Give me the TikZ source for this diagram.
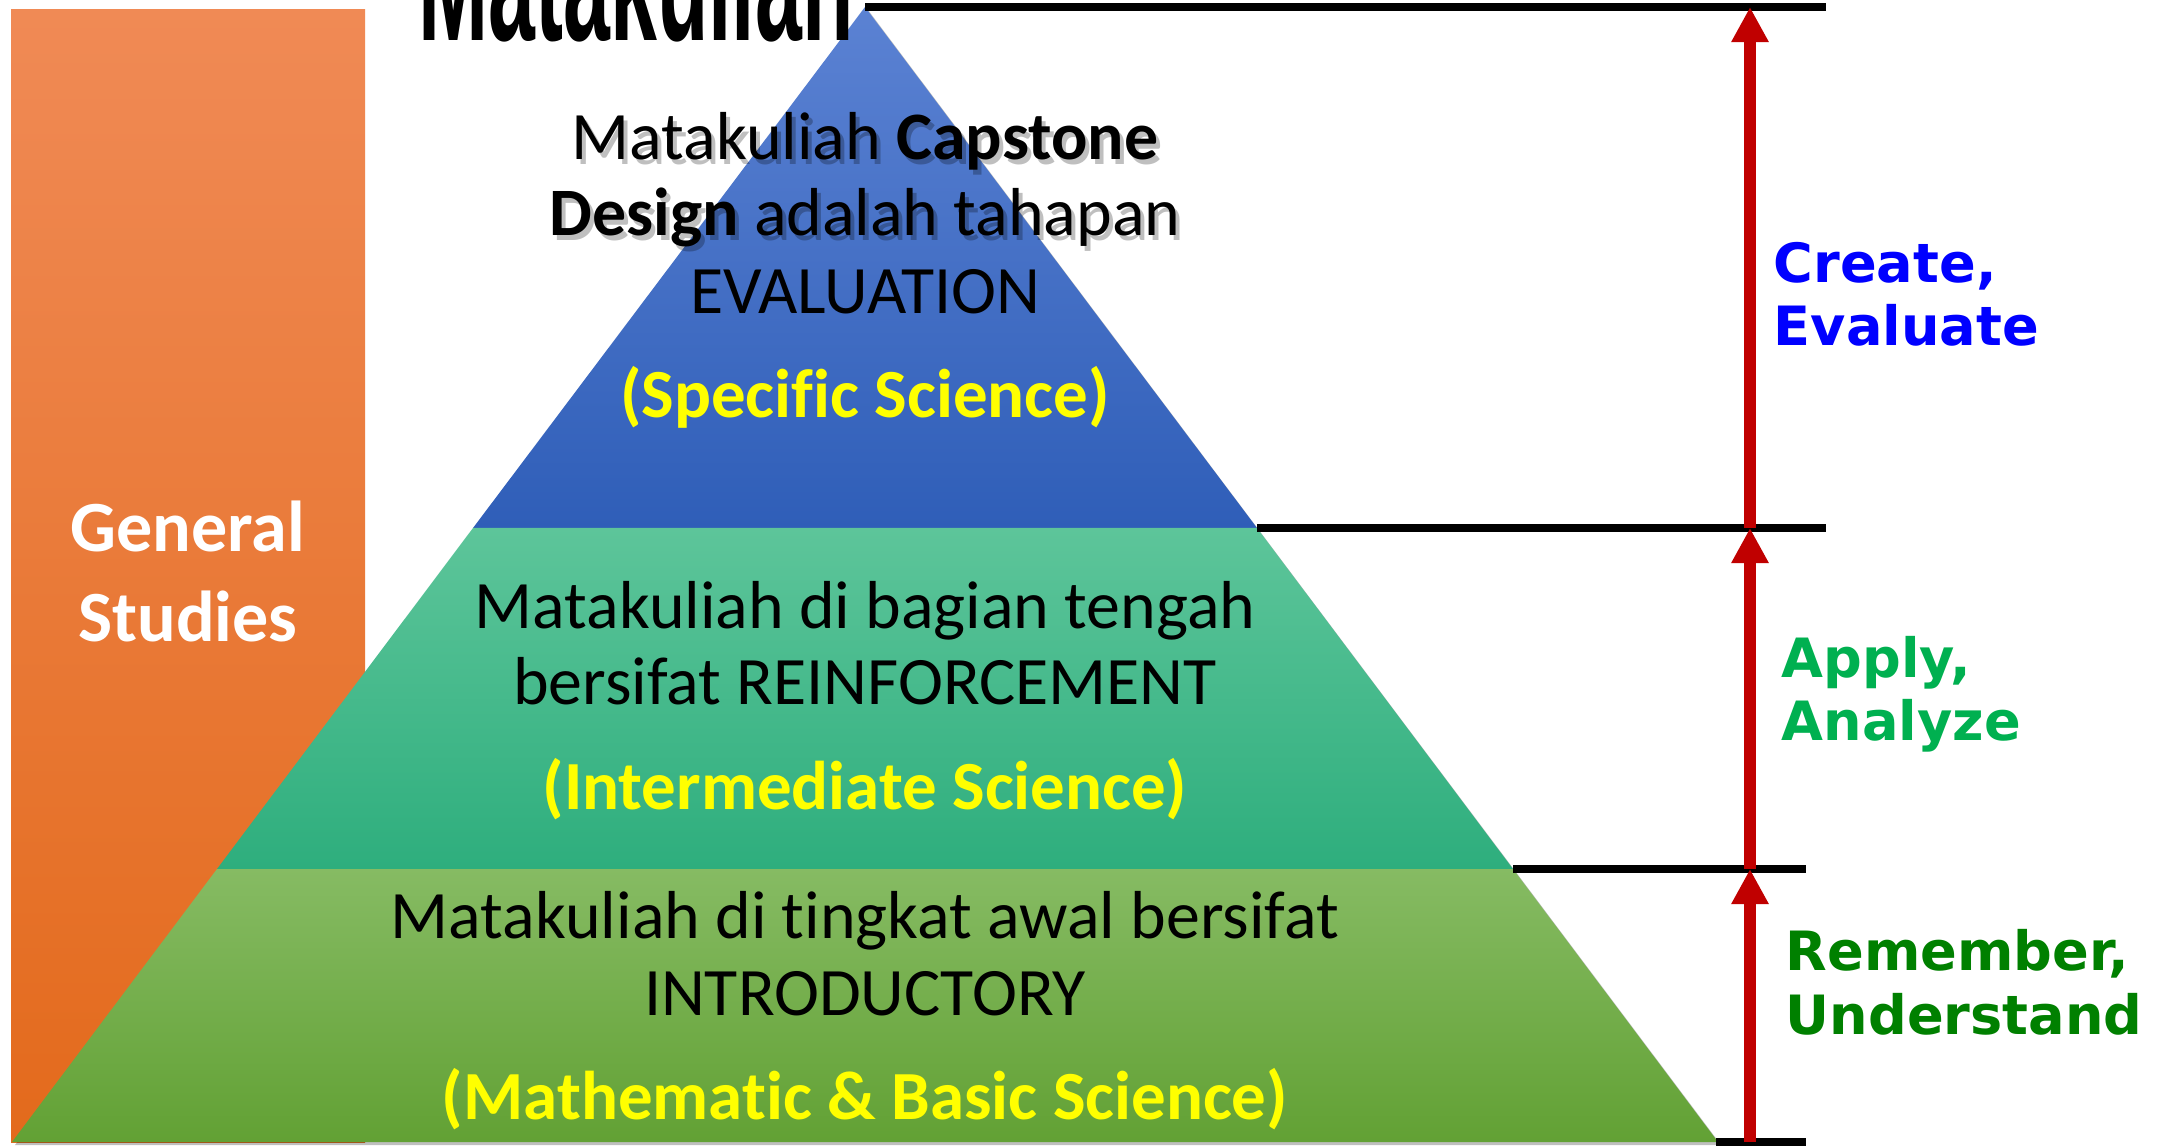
\documentclass[tikz,border=0pt]{standalone}
\usepackage{fontspec}
\setmainfont{Carlito}[Ligatures=NoCommon]
\newfontfamily\dvs{DejaVu Sans}
\newfontfamily\lsans{Liberation Sans}
\usetikzlibrary{arrows.meta}
\definecolor{bloomblue}{HTML}{0000FF}
\definecolor{applygreen}{HTML}{00B050}
\definecolor{remgreen}{HTML}{008000}
\definecolor{arrowred}{HTML}{C00000}
\definecolor{txtyellow}{HTML}{FFFF00}
\definecolor{orTop}{HTML}{F08A55}
\definecolor{orMid}{HTML}{F37B2D}
\definecolor{orBot}{HTML}{E36A1C}
\definecolor{blTop}{HTML}{5B82D3}
\definecolor{blBot}{HTML}{2F5EB8}
\definecolor{tlTop}{HTML}{5DC59A}
\definecolor{tlBot}{HTML}{2EAE7D}
\definecolor{grTop}{HTML}{86BB63}
\definecolor{grBot}{HTML}{62A134}
\begin{document}
\begin{tikzpicture}[x=0.01cm,y=-0.01cm,
  pytext/.style={anchor=base, inner sep=0pt, font=\fontsize{19.3}{22}\selectfont, text=black},
  pyshadow/.style={anchor=base, inner sep=0pt, font=\fontsize{19.3}{22}\selectfont, text=black, opacity=0.25},
  pyyellow/.style={anchor=base, inner sep=0pt, font=\fontsize{19.6}{22}\selectfont\bfseries, text=txtyellow},
  bloom/.style={anchor=base west, inner sep=0pt, font=\dvs\bfseries\fontsize{15.4}{18}\selectfont},
  gslabel/.style={anchor=base, inner sep=0pt, font=\bfseries\fontsize{20.5}{24}\selectfont, text=white},
  levelline/.style={line width=2.2pt, black},
  climb/.style={arrowred, line width=3.4pt, -{Triangle[width=10pt,length=10pt]}},
]
\useasboundingbox (0,0) rectangle (2160,1146);
\clip (0,0) rectangle (2160,1146);
\fill[white] (0,0) rectangle (2160,1146);

% pyramid geometry
\coordinate (A) at (865,7);
\coordinate (L1) at (473,528);
\coordinate (R1) at (1257,528);
\coordinate (L2) at (217,869);
\coordinate (R2) at (1513,869);
\coordinate (BL) at (12,1142);
\coordinate (BR) at (1718,1142);

% general studies bar
\shade[top color=orTop, middle color=orMid, bottom color=orBot] (11,10) rectangle (365,1142);

% pyramid shadow
\fill[black, opacity=0.25] ([shift={(3,3)}]A) -- ([shift={(3,3)}]BR) -- ([shift={(3,3)}]BL) -- cycle;

% pyramid levels
\shade[top color=blTop, bottom color=blBot] (A) -- (R1) -- (L1) -- cycle;
\shade[top color=tlTop, bottom color=tlBot] (L1) -- (R1) -- (R2) -- (L2) -- cycle;
\shade[top color=grTop, bottom color=grBot] (L2) -- (R2) -- (BR) -- (BL) -- cycle;

% cut-off heading
\node[anchor=base, inner sep=0pt, font=\lsans\bfseries\fontsize{28.5}{30}\selectfont] (head) at (636,41) {\scalebox{0.84}[1.7]{Matakuliah}};

% general studies text
\node[gslabel] (gs1) at (188,551) {General};
\node[gslabel] (gs2) at (188,641) {Studies};

% top level text
\node[pyshadow] at (869,165) {Matakuliah \textbf{Capstone}};
\node[pyshadow] at (869,241) {\textbf{Design} adalah tahapan};
\node[pytext] (t1) at (865,160) {Matakuliah \textbf{Capstone}};
\node[pytext] (t2) at (865,236) {\textbf{Design} adalah tahapan};
\node[pytext] (t3) at (865,314) {EVALUATION};
\node[pyyellow] (t4) at (865,418) {(Specific Science)};

% middle level text
\node[pytext] (m1) at (865,628) {Matakuliah di bagian tengah};
\node[pytext] (m2) at (865,704) {bersifat REINFORCEMENT};
\node[pyyellow] (m3) at (865,809) {(Intermediate Science)};

% bottom level text
\node[pytext] (b1) at (865,938) {Matakuliah di tingkat awal bersifat};
\node[pytext] (b2) at (865,1015) {INTRODUCTORY};
\node[pyyellow] (b3) at (865,1119) {(Mathematic \& Basic Science)};

% level lines
\coordinate (e0) at (1826,7);
\coordinate (e1) at (1826,528);
\coordinate (e2) at (1806,869);
\coordinate (BRl) at (1716,1142);
\coordinate (e3) at (1806,1142);
\draw[levelline] (A) -- (e0);
\draw[levelline] (R1) -- (e1);
\draw[levelline] (R2) -- (e2);
\draw[levelline] (BRl) -- (e3);

% arrows
\coordinate (a0) at (1750,7);
\coordinate (a1) at (1750,528);
\coordinate (a2) at (1750,869);
\coordinate (a3) at (1750,1142);
\draw[climb] (a1) -- (a0);
\draw[climb] (a2) -- (a1);
\draw[climb] (a3) -- (a2);

% bloom labels
\node[bloom, text=bloomblue] (c1) at (1773,283) {Create,};
\node[bloom, text=bloomblue] (c2) at (1773,346) {Evaluate};
\node[bloom, text=applygreen] (p1) at (1781,678) {Apply,};
\node[bloom, text=applygreen] (p2) at (1781,740) {Analyze};
\node[bloom, text=remgreen] (r1) at (1785,970) {Remember,};
\node[bloom, text=remgreen] (r2) at (1785,1034) {Understand};
\end{tikzpicture}
\end{document}
